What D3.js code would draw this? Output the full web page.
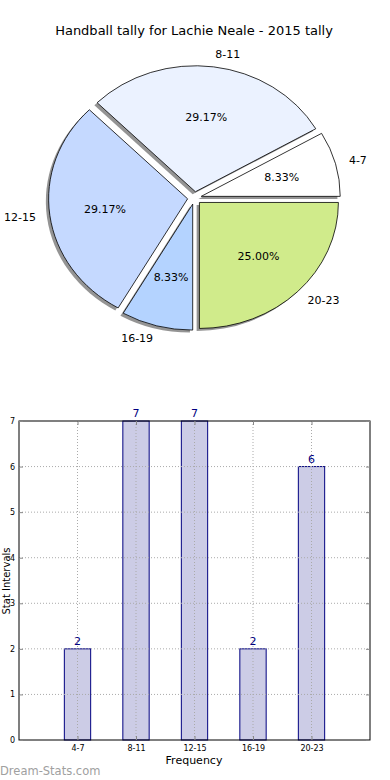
<!DOCTYPE html>
<html lang="en">
    <head>
        <meta charset="UTF-8" />
        <title>Handball tally</title>
        <script src="https://d3js.org/d3.v7.min.js"></script>
        <style>
            body {
                margin: 0;
                background: #fff;
            }
            text {
                font-family: "DejaVu Sans", sans-serif;
            }
        </style>
    </head>
    <body>
        <div id="chart"></div>
        <script>
            const width = 390,
                height = 780;

            // data
            const intervals = ["4-7", "8-11", "12-15", "16-19", "20-23"];
            const counts = [2, 7, 7, 2, 6];
            const sliceColors = ["#ffffff", "#ebf2ff", "#c5d9ff", "#b4d3ff", "#d0eb8b"];
            const yTicks = [0, 1, 2, 3, 4, 5, 6, 7];

            const svg = d3
                .select("#chart")
                .append("svg")
                .attr("width", width)
                .attr("height", height);

            // Title
            svg.append("text")
                .attr("x", 194)
                .attr("y", 35)
                .attr("text-anchor", "middle")
                .style("font-size", "13px")
                .text("Handball tally for Lachie Neale - 2015 tally");

            // ---- Pie (matplotlib style, elliptical, exploded, shadowed) ----
            const cx = 194.5,
                cy = 198,
                rx = 139,
                ry = 126,
                explode = 0.05;

            const pie = d3
                .pie()
                .sort(null)
                .startAngle(Math.PI / 2)
                .endAngle(Math.PI / 2 - 2 * Math.PI);
            const arc = d3.arc().innerRadius(0).outerRadius(1);
            const arcs = pie(counts);
            const total = d3.sum(counts);

            const slices = arcs.map((a, i) => {
                const mid = (a.startAngle + a.endAngle) / 2;
                const ux = Math.sin(mid),
                    uy = -Math.cos(mid);
                return {
                    a,
                    i,
                    ux,
                    uy,
                    ox: cx + ux * explode * rx,
                    oy: cy + uy * explode * ry,
                };
            });

            const pieG = svg.append("g");

            // shadows
            pieG.selectAll(".shadow")
                .data(slices)
                .enter()
                .append("path")
                .attr("class", "shadow")
                .attr("d", (d) => arc(d.a))
                .attr(
                    "transform",
                    (d) =>
                        `translate(${d.ox - 0.02 * rx},${d.oy + 0.02 * ry}) scale(${rx},${ry})`,
                )
                .attr("fill", "#4d4d4d")
                .attr("opacity", 0.6);

            pieG.selectAll(".slice")
                .data(slices)
                .enter()
                .append("path")
                .attr("class", "slice")
                .attr("d", (d) => arc(d.a))
                .attr(
                    "transform",
                    (d) => `translate(${d.ox},${d.oy}) scale(${rx},${ry})`,
                )
                .attr("fill", (d) => sliceColors[d.i])
                .attr("stroke", "#000")
                .attr("stroke-width", 0.8)
                .attr("vector-effect", "non-scaling-stroke");

            // outer labels
            pieG.selectAll(".plabel")
                .data(slices)
                .enter()
                .append("text")
                .attr("x", (d) => d.ox + d.ux * 1.1 * rx)
                .attr("y", (d) => d.oy + d.uy * 1.1 * ry)
                .attr("dy", "0.35em")
                .attr("text-anchor", (d) => (d.ux > 0 ? "start" : "end"))
                .style("font-size", "11px")
                .text((d) => intervals[d.i]);

            // percentages
            pieG.selectAll(".pct")
                .data(slices)
                .enter()
                .append("text")
                .attr("x", (d) => d.ox + d.ux * 0.6 * rx)
                .attr("y", (d) => d.oy + d.uy * 0.6 * ry)
                .attr("dy", "0.35em")
                .attr("text-anchor", "middle")
                .style("font-size", "11px")
                .text((d) => ((counts[d.i] / total) * 100).toFixed(2) + "%");

            // ---- Bar chart ----
            const axLeft = 19,
                axRight = 370,
                axTop = 421,
                axBottom = 740;

            const x = d3.scaleLinear().domain([-1, 5]).range([axLeft, axRight]);
            const y = d3.scaleLinear().domain([0, 7]).range([axBottom, axTop]);
            const barW = x(0.45) - x(0);

            const barG = svg.append("g");

            barG.selectAll(".bar")
                .data(counts)
                .enter()
                .append("rect")
                .attr("x", (d, i) => x(i) - barW / 2)
                .attr("y", (d) => y(d))
                .attr("width", barW)
                .attr("height", (d) => y(0) - y(d))
                .attr("fill", "#cccce6")
                .attr("stroke", "#000080")
                .attr("stroke-width", 1);

            // grid (drawn over bars)
            barG.selectAll(".hgrid")
                .data(yTicks.slice(1, -1))
                .enter()
                .append("line")
                .attr("x1", axLeft)
                .attr("x2", axRight)
                .attr("y1", (d) => y(d))
                .attr("y2", (d) => y(d))
                .attr("stroke", "#aaa")
                .attr("stroke-dasharray", "1,2");

            barG.selectAll(".vgrid")
                .data(intervals)
                .enter()
                .append("line")
                .attr("x1", (d, i) => x(i))
                .attr("x2", (d, i) => x(i))
                .attr("y1", axTop)
                .attr("y2", axBottom)
                .attr("stroke", "#aaa")
                .attr("stroke-dasharray", "1,2");

            // axes frame
            barG.append("rect")
                .attr("x", axLeft)
                .attr("y", axTop)
                .attr("width", axRight - axLeft)
                .attr("height", axBottom - axTop)
                .attr("fill", "none")
                .attr("stroke", "#000")
                .attr("stroke-width", 1);

            // inward ticks
            barG.append("g")
                .attr("transform", `translate(${axLeft},0)`)
                .call(
                    d3.axisLeft(y)
                        .tickValues(yTicks)
                        .tickFormat(d3.format("d"))
                        .tickSize(-4)
                        .tickPadding(4),
                )
                .call((g) => g.select(".domain").remove())
                .call((g) => g.selectAll("line").attr("stroke", "#888"))
                .call((g) =>
                    g.selectAll("text")
                        .style("font-size", "8px")
                        .style("font-family", "DejaVu Sans"),
                );

            barG.append("g")
                .attr("transform", `translate(${axRight},0)`)
                .call(d3.axisRight(y).tickValues(yTicks).tickSize(-4).tickFormat(""))
                .call((g) => g.select(".domain").remove())
                .call((g) => g.selectAll("line").attr("stroke", "#888"));

            barG.append("g")
                .attr("transform", `translate(0,${axBottom})`)
                .call(
                    d3.axisBottom(x)
                        .tickValues(d3.range(intervals.length))
                        .tickFormat((i) => intervals[i])
                        .tickSize(-4)
                        .tickPadding(5),
                )
                .call((g) => g.select(".domain").remove())
                .call((g) => g.selectAll("line").attr("stroke", "#888"))
                .call((g) =>
                    g.selectAll("text")
                        .style("font-size", "8px")
                        .style("font-family", "DejaVu Sans"),
                );

            barG.append("g")
                .attr("transform", `translate(0,${axTop})`)
                .call(
                    d3.axisTop(x)
                        .tickValues(d3.range(intervals.length))
                        .tickSize(-4)
                        .tickFormat(""),
                )
                .call((g) => g.select(".domain").remove())
                .call((g) => g.selectAll("line").attr("stroke", "#888"));

            // value labels
            barG.selectAll(".val")
                .data(counts)
                .enter()
                .append("text")
                .attr("x", (d, i) => x(i))
                .attr("y", (d) => y(d) - 4)
                .attr("text-anchor", "middle")
                .attr("fill", "#000080")
                .style("font-size", "11px")
                .text((d) => d);

            // axis titles
            svg.append("text")
                .attr("x", 194)
                .attr("y", 764)
                .attr("text-anchor", "middle")
                .style("font-size", "11px")
                .text("Frequency");

            svg.append("text")
                .attr("transform", "translate(9.5,581) rotate(-90)")
                .attr("text-anchor", "middle")
                .style("font-size", "10px")
                .text("Stat Intervals");

            // watermark
            svg.append("text")
                .attr("x", 0)
                .attr("y", 775)
                .attr("fill", "#a0a0a0")
                .style("font-size", "11.5px")
                .text("Dream-Stats.com");
        </script>
    </body>
</html>
